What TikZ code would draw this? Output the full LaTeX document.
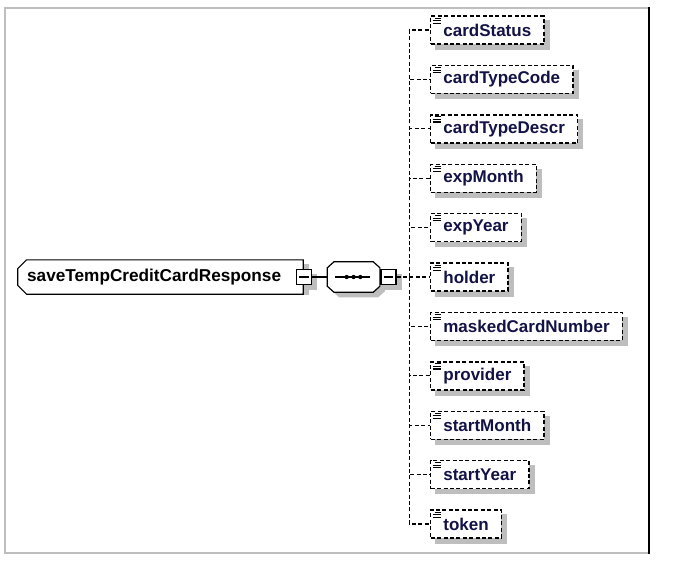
\documentclass[tikz,border=0pt]{standalone}
\usepackage{fontspec}
\setmainfont{Liberation Sans}
\usetikzlibrary{positioning,shapes.misc,backgrounds}
\definecolor{framegray}{RGB}{190,190,190}
\definecolor{shadowgray}{RGB}{190,190,190}
\definecolor{labelnavy}{RGB}{18,18,70}
\tikzset{
    rootbox/.style={draw, fill=white, line width=0.9pt, chamfered rectangle, chamfered rectangle corners={north west,south west}, chamfered rectangle xsep=3pt, minimum width=213pt, minimum height=22.5pt, text width=200pt, align=left, inner xsep=4pt, font=\fontsize{12.9}{15}\selectfont\bfseries},
    minusbox/.style={draw, fill=white, line width=1.1pt, minimum size=11.25pt, inner sep=0pt,
        path picture={\draw[line width=1.1pt] ([xshift=-3.6pt]path picture bounding box.center) -- ([xshift=3.6pt]path picture bounding box.center);}},
    seqholder/.style={minimum width=39pt, minimum height=22.5pt, inner sep=0pt},
    seqshape/.style={draw, fill=white, line width=0.9pt, line join=miter},
    shadowfill/.style={fill=shadowgray},
    fieldbox/.style={draw, fill=white, line width=1.05pt, dash pattern=on 3pt off 1.8pt, anchor=west, minimum height=21pt, inner xsep=9.5pt, text=labelnavy, font=\fontsize{12.75}{15}\selectfont\bfseries,
        path picture={
            \draw[solid, line width=0.8pt, black] ([xshift=3pt,yshift=-1.6pt]path picture bounding box.north west) -- ++(5pt,0pt);
            \draw[solid, line width=0.8pt, black] ([xshift=1.5pt,yshift=-3.5pt]path picture bounding box.north west) -- ++(6.5pt,0pt);
            \draw[solid, line width=0.8pt, black] ([xshift=1.5pt,yshift=-5.4pt]path picture bounding box.north west) -- ++(6.5pt,0pt);
        }},
    linkline/.style={line width=0.9pt},
    treeline/.style={line width=1pt, dash pattern=on 3pt off 1.8pt}
}

\begin{document}
\begin{tikzpicture}[x=0.75pt, y=-0.75pt]
    \useasboundingbox (0,0) rectangle (675,569);
    % frame
    \draw[framegray, line width=1.2pt] (649,8) -- (5,8) -- (5,553) -- (649,553);
    \draw[black, line width=1.5pt] (649,7) -- (649,554);

    \node[rootbox] (root) at (160.5,277) {saveTempCreditCardResponse};
    \node[minusbox] (rootminus) at (root.east) {};
    \node[seqholder, right=11.5pt of rootminus] (seq) {};
    \node[seqholder] (seqshade) at ([shift={(3.75pt,-3.75pt)}]seq.center) {};
    % sequence compositor
    \draw[seqshape] ([xshift=5pt]seq.north west) -- ([xshift=-5pt]seq.north east) -- ([yshift=-4.5pt]seq.north east) -- ([yshift=4.5pt]seq.south east) -- ([xshift=-5pt]seq.south east) -- ([xshift=5pt]seq.south west) -- ([yshift=4.5pt]seq.south west) -- ([yshift=-4.5pt]seq.north west) -- cycle;
    \draw[line width=1pt] ([xshift=-14.3pt]seq.center) -- ([xshift=12pt]seq.center);
    \fill ([xshift=-5.2pt]seq.center) circle (1.6pt);
    \fill (seq.center) circle (1.6pt);
    \fill ([xshift=5pt]seq.center) circle (1.6pt);
    \node[minusbox] (seqminus) at ([xshift=6.5pt]seq.east) {};
    \coordinate[right=9.5pt of seqminus] (fork);

    \node[fieldbox] (cardStatus) at (430,30) {cardStatus};
    \node[fieldbox] (cardTypeCode) at (430,79.4) {cardTypeCode};
    \node[fieldbox] (cardTypeDescr) at (430,128.8) {cardTypeDescr};
    \node[fieldbox] (expMonth) at (430,178.2) {expMonth};
    \node[fieldbox] (expYear) at (430,227.6) {expYear};
    \node[fieldbox] (holder) at (430,277) {holder};
    \node[fieldbox] (maskedCardNumber) at (430,326.4) {maskedCardNumber};
    \node[fieldbox] (provider) at (430,375.8) {provider};
    \node[fieldbox] (startMonth) at (430,425.2) {startMonth};
    \node[fieldbox] (startYear) at (430,474.6) {startYear};
    \node[fieldbox] (token) at (430,524) {token};

    \draw[linkline] (rootminus) -- (seq.west);
    \draw[treeline] (seqminus.east) -- (fork);
    \draw[treeline] (fork) |- (cardStatus.west);
    \draw[treeline] (fork) |- (cardTypeCode.west);
    \draw[treeline] (fork) |- (cardTypeDescr.west);
    \draw[treeline] (fork) |- (expMonth.west);
    \draw[treeline] (fork) |- (expYear.west);
    \draw[treeline] (fork) |- (holder.west);
    \draw[treeline] (fork) |- (maskedCardNumber.west);
    \draw[treeline] (fork) |- (provider.west);
    \draw[treeline] (fork) |- (startMonth.west);
    \draw[treeline] (fork) |- (startYear.west);
    \draw[treeline] (fork) |- (token.west);

    % shadows
    \begin{scope}[on background layer]
        \fill[shadowfill] ([shift={(3.75pt,-3.75pt)}]root.south west) rectangle ([shift={(3.75pt,-3.75pt)}]root.north east);
        \fill[shadowfill] ([xshift=5pt]seqshade.north west) -- ([xshift=-5pt]seqshade.north east) -- ([yshift=-4.5pt]seqshade.north east) -- ([yshift=4.5pt]seqshade.south east) -- ([xshift=-5pt]seqshade.south east) -- ([xshift=5pt]seqshade.south west) -- ([yshift=4.5pt]seqshade.south west) -- ([yshift=-4.5pt]seqshade.north west) -- cycle;
        \foreach \shadenode in {rootminus,seqminus,cardStatus,cardTypeCode,cardTypeDescr,expMonth,expYear,holder,maskedCardNumber,provider,startMonth,startYear,token}
            \fill[shadowfill] ([shift={(3.75pt,-3.75pt)}]\shadenode.south west) rectangle ([shift={(3.75pt,-3.75pt)}]\shadenode.north east);
    \end{scope}
\end{tikzpicture}
\end{document}
